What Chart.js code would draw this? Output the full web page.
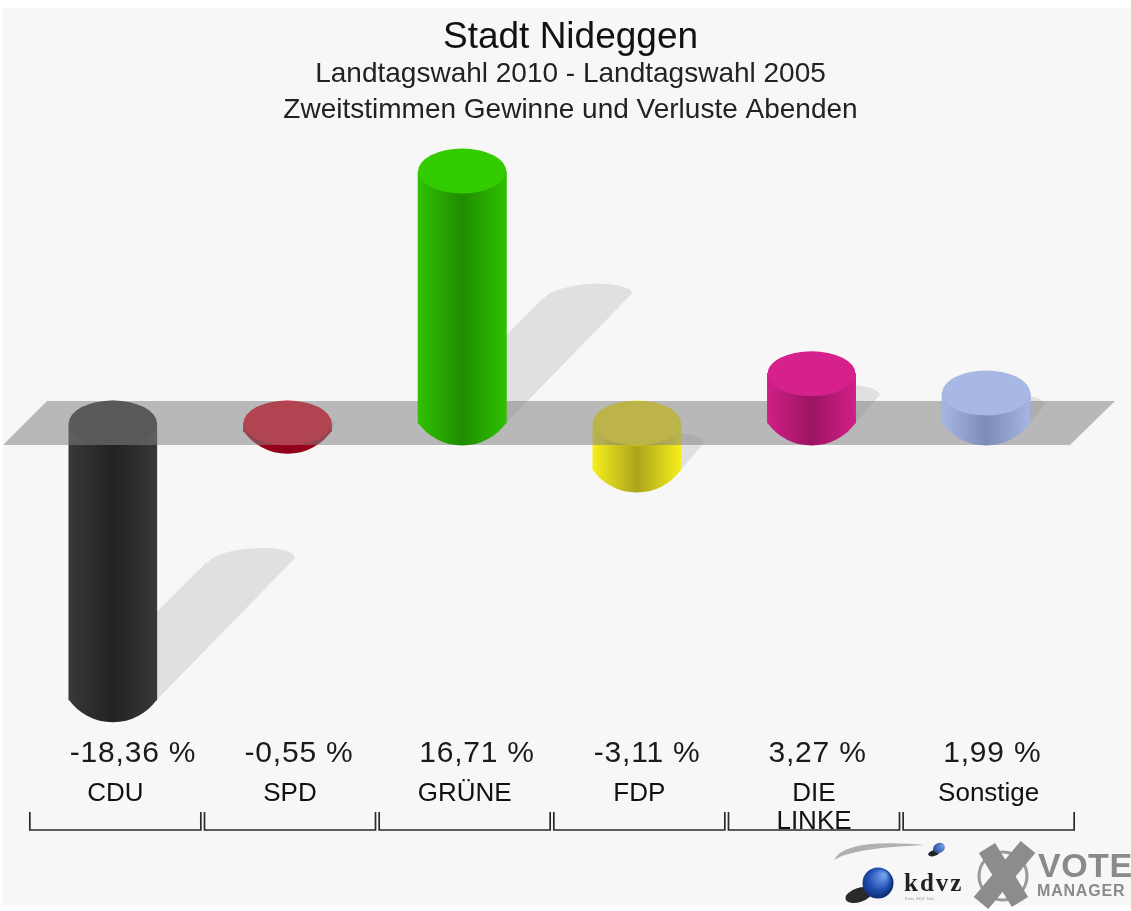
<!DOCTYPE html>
<html><head><meta charset="utf-8">
<style>html,body{margin:0;padding:0;background:#fff}canvas{display:block}</style>
<script src="https://cdn.jsdelivr.net/npm/chart.js@4"></script>
</head><body><div style="width:1131px;height:911px"><canvas id="c" width="1131" height="911"></canvas></div>
<script>
const categories = [["CDU"],["SPD"],["GRÜNE"],["FDP"],["DIE","LINKE"],["Sonstige"]];
const changes = [-18.36,-0.55,16.71,-3.11,3.27,1.99];
const edgeColors = ["#383838","#b00020","#2fc000","#f6ee1c","#d01f86","#a6b6e2"];
const coreColors = ["#222222","#8a0016","#1f8c00","#aca41c","#9c1462","#7d8cb6"];
const capColors  = ["#2e2e2e","#e6001a","#33cc00","#ffee10","#d6218c","#a8b8e4"];
const titleText = "Stadt Nideggen";
const subtitleLines = ["Landtagswahl 2010 - Landtagswahl 2005","Zweitstimmen Gewinne und Verluste Abenden"];

const RX=44, RY=22.5, FONT='"Liberation Sans", Arial, sans-serif';
function sideGradient(ctx,x,i){
  const g=ctx.createLinearGradient(x-RX,0,x+RX,0);
  g.addColorStop(0,edgeColors[i]);g.addColorStop(.5,coreColors[i]);g.addColorStop(1,edgeColors[i]);
  return g;
}
const scene={
  id:'scene',
  beforeDraw(chart){
    const c=chart.ctx;
    c.save();c.fillStyle='#f7f7f7';c.fillRect(3,8,1128,897);c.restore();
  },
  afterLayout(chart){
    chart.boxes.forEach(b=>{ if(b.titleHeight!==undefined||('_padding' in b&&!b.axis)){b.left+=21;b.right+=21;} });
  },
  beforeDatasetsDraw(chart){
    const c=chart.ctx, meta=chart.getDatasetMeta(0);
    c.save();c.fillStyle='#e0e0e0';
    meta.data.forEach(bar=>{
      const low=Math.max(bar.y,bar.base), h=Math.abs(bar.y-bar.base), d=h/2;
      c.beginPath();
      c.moveTo(bar.x-RX,low);
      c.lineTo(bar.x-RX+d,low-d);
      c.ellipse(bar.x+d,low-d,RX,13,-0.08,Math.PI,2*Math.PI);
      c.lineTo(bar.x+RX,low);
      c.closePath();c.fill();
    });
    c.restore();
  },
  afterDatasetsDraw(chart){
    const c=chart.ctx, meta=chart.getDatasetMeta(0);
    const caps=(bar,i)=>{
      const low=Math.max(bar.y,bar.base), high=Math.min(bar.y,bar.base), x=bar.x;
      c.fillStyle=sideGradient(c,x,i);
      c.beginPath();
      c.moveTo(x-RX,low-1);
      c.lineTo(x-RX,low);
      c.bezierCurveTo(x-RX*.78,low+RY*.6,x-RX*.42,low+RY,x,low+RY);
      c.bezierCurveTo(x+RX*.42,low+RY,x+RX*.78,low+RY*.6,x+RX,low);
      c.lineTo(x+RX,low-1);
      c.closePath();c.fill();
      c.fillStyle=capColors[i];
      c.beginPath();c.ellipse(x,high,RX,RY,0,0,2*Math.PI);c.fill();
    };
    meta.data.forEach((bar,i)=>{ if(changes[i]<0) caps(bar,i); });
    const z=chart.scales.y.getPixelForValue(0);
    c.save();c.fillStyle='rgba(129,129,129,0.53)';
    c.beginPath();c.moveTo(47,z-22);c.lineTo(1115,z-22);c.lineTo(1070,z+22);c.lineTo(3,z+22);c.closePath();c.fill();c.restore();
    meta.data.forEach((bar,i)=>{ if(changes[i]>=0){ bar.draw(c); caps(bar,i);} });
    // value labels
    c.save();c.fillStyle='#1a1a1a';c.font='30px '+FONT;c.letterSpacing='0.8px';c.textAlign='left';c.textBaseline='middle';
    meta.data.forEach((bar,i)=>{
      c.fillText(changes[i].toFixed(2).replace('.',',')+' %',bar.x-43,754);
    });
    c.restore();
    // brackets
    const xs=chart.scales.x;
    c.save();c.strokeStyle='#2a2a2a';c.lineWidth=1.7;
    categories.forEach((_,i)=>{
      const m=xs.getPixelForTick(i)+2.5;
      c.beginPath();c.moveTo(m-85.5,812);c.lineTo(m-85.5,830);c.lineTo(m+85.5,830);c.lineTo(m+85.5,812);c.stroke();
    });
    c.restore();
    drawLogos(c);
  }
};
function drawLogos(c){
  c.save();
  // swoosh
  c.fillStyle='#b0b0b0';
  c.beginPath();c.moveTo(925,845);c.quadraticCurveTo(845,838,834,860);c.quadraticCurveTo(852,848,925,845);c.fill();
  // small sphere
  let g=c.createRadialGradient(943,846,1,939,849,9);g.addColorStop(0,'#6d95e0');g.addColorStop(1,'#14357f');
  c.fillStyle='#222';c.beginPath();c.ellipse(934,853,6,3,-.3,0,7);c.fill();
  c.fillStyle=g;c.beginPath();c.ellipse(939,848,6,5,-.4,0,7);c.fill();
  // big sphere
  c.fillStyle='#2a2a2a';c.beginPath();c.ellipse(859,895,14,7,-.3,0,7);c.fill();
  g=c.createRadialGradient(884,875,2,876,882,17);g.addColorStop(0,'#6f9be8');g.addColorStop(.6,'#1f4fb0');g.addColorStop(1,'#0e2a70');
  c.fillStyle=g;c.beginPath();c.arc(878,883,15.5,0,7);c.fill();
  c.fillStyle='#222';c.font='bold 25px "Liberation Serif", serif';c.letterSpacing='2px';c.textAlign='left';c.textBaseline='alphabetic';
  c.fillText('kdvz',904,891);
  c.letterSpacing='0px';
  c.fillStyle='#999';c.font='4px '+FONT;c.fillText('Kreis  EDV  Nrw',905,900);
  // X mark
  c.lineWidth=3;c.strokeStyle='#9a9a9a';c.beginPath();c.arc(1003,876,24,0,7);c.stroke();
  c.strokeStyle='#8c8c8c';c.lineWidth=19;c.beginPath();c.moveTo(987,848);c.lineTo(1020,902);c.moveTo(1028,847);c.lineTo(981,903);c.stroke();
  c.fillStyle='#8a8a8a';c.font='bold 34px '+FONT;c.letterSpacing='0.5px';c.fillText('VOTE',1038,877);
  c.font='bold 16px '+FONT;c.letterSpacing='0.8px';c.fillText('MANAGER',1037,896);
  c.restore();
}
new Chart(document.getElementById('c'),{
  type:'bar',
  data:{labels:categories,datasets:[{data:changes,barThickness:88,borderWidth:0,
    backgroundColor(ctx){
      const s=ctx.chart.scales&&ctx.chart.scales.x;
      if(!s||ctx.dataIndex===undefined) return '#888';
      const px=s.getPixelForValue(ctx.dataIndex);
      if(!Number.isFinite(px)) return '#888';
      return sideGradient(ctx.chart.ctx,px,ctx.dataIndex);
    }}]},
  plugins:[scene],
  options:{
    responsive:false,animation:false,
    layout:{padding:{left:25.5,right:57.5,top:0,bottom:0}},
    plugins:{
      legend:{display:false},tooltip:{enabled:false},
      title:{display:true,text:titleText,color:'#111',font:{family:FONT,size:37,weight:'normal',lineHeight:1},padding:{top:19,bottom:0}},
      subtitle:{display:true,text:subtitleLines,color:'#222',font:{family:FONT,size:28,weight:'normal',lineHeight:1.286},padding:{top:0,bottom:8.5}}
    },
    scales:{
      x:{grid:{display:false},border:{display:false},
        afterFit(s){s.height=201.5;},
        ticks:{color:'#111',padding:62,labelOffset:2.5,maxRotation:0,autoSkip:false,font:{family:FONT,size:26,lineHeight:1.08}}},
      y:{display:false,min:-19,max:19}
    }
  }
});
</script></body></html>
